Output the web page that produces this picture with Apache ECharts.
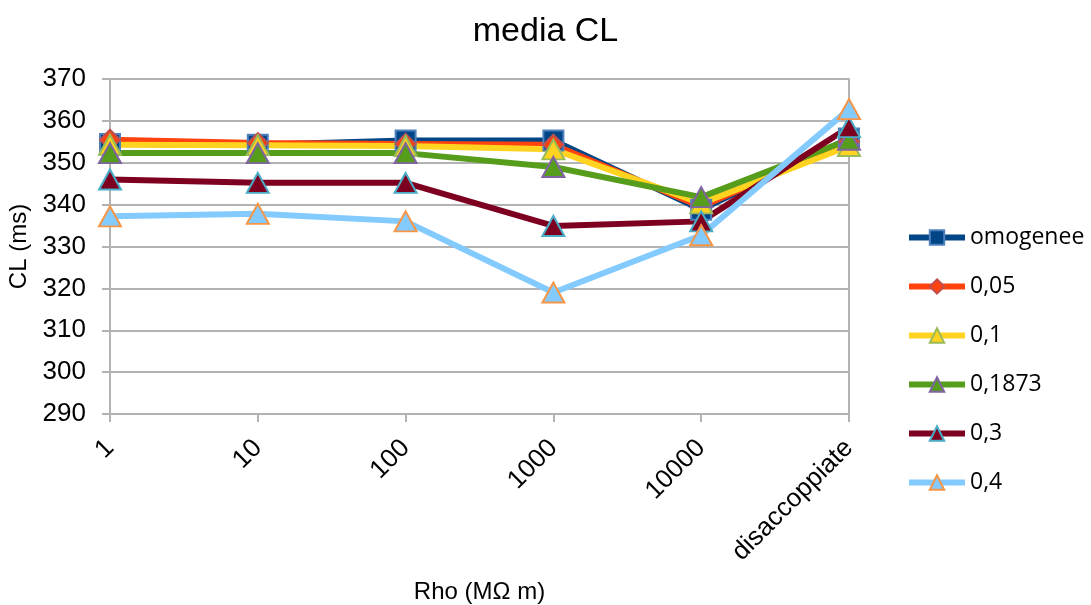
<!DOCTYPE html>
<html>
<head>
<meta charset="utf-8">
<script src="https://cdn.jsdelivr.net/npm/echarts@6/dist/echarts.min.js"></script>
<style>
  html, body { margin: 0; padding: 0; background: #ffffff; }
  #chart { width: 1091px; height: 605px; }
</style>
</head>
<body>
<div id="chart"></div>
<script>
// Categories on the x axis (resistivity, MΩ m)
const categories = ['1', '10', '100', '1000', '10000', 'disaccoppiate'];

// Mean CL (ms) per series
const seriesNames = ['omogenee', '0,05', '0,1', '0,1873', '0,3', '0,4'];
const omogenee = [354.5, 354.3, 355.3, 355.3, 338.8, 355.8];
const s005     = [355.5, 354.7, 354.5, 354.3, 339.5, 355.0];
const s01      = [354.3, 354.2, 354.0, 353.2, 340.3, 354.0];
const s01873   = [352.3, 352.3, 352.3, 349.0, 341.8, 355.5];
const s03      = [346.0, 345.2, 345.2, 334.9, 336.0, 358.5];
const s04      = [337.2, 337.8, 336.0, 319.0, 332.7, 362.8];
const seriesValues = [omogenee, s005, s01, s01873, s03, s04];

// Y axis range
const yMin = 290, yMax = 370, yStep = 10;

const lineColors   = ['#004586', '#ff420e', '#ffd320', '#579d1c', '#7e0021', '#83caff'];
const markerBorder = ['#4f81bd', '#c0504d', '#9bbb59', '#8064a2', '#4bacc6', '#f79646'];
const symbols      = ['rect', 'diamond', 'triangle', 'triangle', 'triangle', 'triangle'];
const symbolSizes  = [[20, 20], [20, 20], [22, 20], [22, 20], [22, 20], [22, 20]];

const FONT = '"Liberation Sans", Arial, sans-serif';

const chart = echarts.init(document.getElementById('chart'), null, { renderer: 'canvas' });

chart.setOption({
  backgroundColor: '#ffffff',
  animation: false,
  title: {
    text: 'media CL',
    left: 'center',
    top: 10,
    textStyle: { fontFamily: FONT, fontSize: 34, fontWeight: 'normal', color: '#000' }
  },
  legend: {
    orient: 'vertical',
    left: 901,
    top: 221,
    itemWidth: 56,
    itemHeight: 18,
    itemGap: 26,
    data: seriesNames,
    lineStyle: { width: 6 },
    textStyle: { fontFamily: '"Open Sans", sans-serif', fontSize: 23, color: '#000' }
  },
  grid: {
    left: 110, right: 242, top: 79, bottom: 191,
    containLabel: false,
    outerBoundsMode: 'none'
  },
  xAxis: {
    type: 'category',
    data: categories,
    boundaryGap: false,
    name: 'Rho (MΩ m)',
    nameLocation: 'middle',
    nameGap: 166,
    nameTextStyle: { fontFamily: FONT, fontSize: 24, color: '#000' },
    axisLine: { show: true, lineStyle: { color: '#b3b3b3', width: 2 } },
    axisTick: { show: true, alignWithLabel: true, length: 8, lineStyle: { color: '#b3b3b3', width: 2 } },
    axisLabel: { rotate: 45, fontFamily: FONT, fontSize: 26, color: '#000', margin: 30 },
    splitLine: { show: false }
  },
  yAxis: [{
    type: 'value',
    min: yMin,
    max: yMax,
    interval: yStep,
    name: 'CL (ms)',
    nameLocation: 'middle',
    nameGap: 73,
    nameRotate: 90,
    nameTextStyle: { fontFamily: FONT, fontSize: 24, color: '#000' },
    axisLine: { show: true, lineStyle: { color: '#b3b3b3', width: 2 } },
    axisTick: { show: true, length: 8, lineStyle: { color: '#b3b3b3', width: 2 } },
    axisLabel: { fontFamily: FONT, fontSize: 26, color: '#000', margin: 24 },
    splitLine: { show: true, lineStyle: { color: '#b3b3b3', width: 2 } }
  }, {
    type: 'value',
    min: yMin,
    max: yMax,
    interval: yStep,
    position: 'right',
    axisLine: { show: true, lineStyle: { color: '#b3b3b3', width: 2 } },
    axisTick: { show: false },
    axisLabel: { show: false },
    splitLine: { show: false }
  }],
  series: seriesNames.map((name, i) => ({
    name: name,
    type: 'line',
    data: seriesValues[i],
    symbol: symbols[i],
    symbolSize: symbolSizes[i],
    showAllSymbol: true,
    lineStyle: { color: lineColors[i], width: 6 },
    itemStyle: { color: lineColors[i], borderColor: markerBorder[i], borderWidth: 2 },
    emphasis: { disabled: true }
  }))
});
</script>
</body>
</html>
